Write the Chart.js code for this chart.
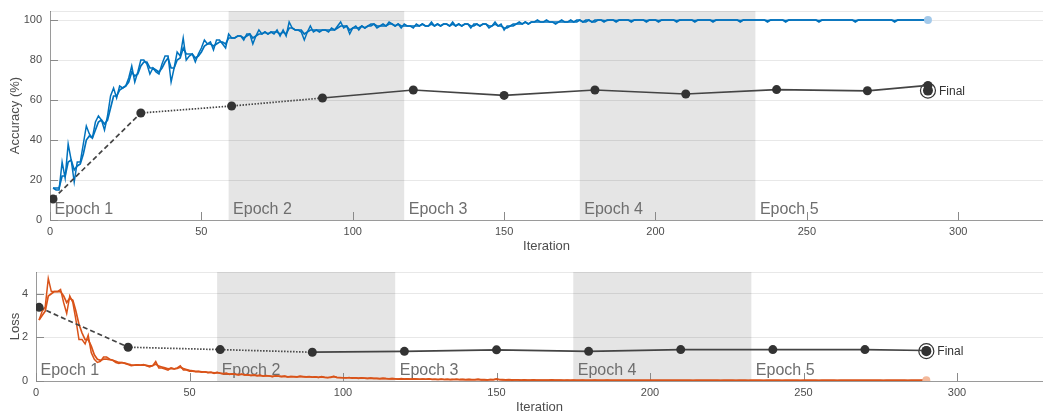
<!DOCTYPE html>
<html>
<head>
<meta charset="utf-8">
<script src="https://cdn.jsdelivr.net/npm/chart.js@4.4.1/dist/chart.umd.min.js"></script>
<style>
  html, body { margin: 0; padding: 0; background: #fff; width: 1043px; height: 413px; overflow: hidden; }
  canvas { display: block; }
</style>
</head>
<body>
<canvas id="acc" width="1043" height="262"></canvas>
<canvas id="loss" width="1043" height="160"></canvas>
<script>
// training accuracy per iteration (1..290)
const accRaw = [
  16,15,15,29,21,38,30,19,29,29,
  38,47,43,41,49,52,50,45,52,62,
  66,61,67,66,67,71,77,69,74,80,
  80,78,73,76,74,73,78,82,82,69,
  76,84,82,91,80,82,83,79,83,86,
  90,88,89,85,90,90,88,86,93,91,
  91,92,92,90,93,93,88,92,95,93,
  94,93,94,93,95,92,95,92,99,96,
  95,95,94,90,94,97,94,95,94,95,
  95,94,96,95,97,99,96,97,93,96,
  97,95,97,96,97,98,98,96,97,98,
  97,99,98,97,98,96,98,97,97,96,
  98,97,98,97,97,99,97,98,97,98,
  98,97,99,97,98,97,98,98,96,98,
  98,97,98,98,96,97,99,97,98,95,
  97,97,98,98,99,98,99,98,99,99,
  100,99,99,100,99,99,98,99,100,99,
  99,100,99,100,100,99,100,100,99,100,
  100,100,99,100,100,100,99,100,100,100,
  100,99,100,100,100,100,99,100,100,100,
  99,100,100,100,100,100,99,100,100,100,
  100,100,99,100,100,100,100,100,99,100,
  100,100,100,100,100,100,100,99,100,100,
  100,100,100,100,100,100,99,100,100,100,
  100,100,99,100,100,100,100,100,100,100,
  100,100,100,99,100,100,100,100,100,100,
  100,100,100,100,100,99,100,100,100,100,
  100,100,100,100,100,100,100,100,99,100,
  100,100,100,100,100,100,100,100,100,100
];
const accSmooth = [
  16,16,16,22,22,29,30,25,27,28,
  33,40,42,41,45,49,50,48,50,56,
  62,62,65,66,67,69,74,72,73,77,
  79,79,76,76,75,74,76,79,81,76,
  76,80,81,86,83,83,83,81,82,84,
  87,88,88,87,88,89,89,88,91,91,
  91,92,92,91,92,93,91,92,93,93,
  94,93,94,94,94,93,94,93,96,96,
  95,95,95,93,94,95,95,95,95,95,
  95,95,95,95,96,97,97,97,95,96,
  96,96,97,96,97,97,98,97,97,97,
  97,98,98,97,98,97,97,97,97,97,
  97,97,98,97,97,98,97,98,97,98,
  98,97,98,97,98,97,98,98,97,97,
  98,97,98,98,97,97,98,97,97,96,
  96,97,97,98,98,98,99,98,99,99,
  99,99,99,99,99,99,99,99,99,99,
  99,99,99,99,100,99,99,100,99,99,
  100,100,99.7,99.8,100,100,99.7,99.9,100,100,
  100,99.7,99.9,100,100,100,99.7,99.9,100,100,
  99.7,99.9,100,100,100,100,99.7,99.9,100,100,
  100,100,99.7,99.9,100,100,100,100,99.7,99.9,
  100,100,100,100,100,100,100,99.7,99.9,100,
  100,100,100,100,100,100,99.7,99.9,100,100,
  100,100,99.7,99.9,100,100,100,100,100,100,
  100,100,100,99.7,99.9,100,100,100,100,100,
  100,100,100,100,100,99.7,99.9,100,100,100,
  100,100,100,100,100,100,100,100,99.7,99.9,
  100,100,100,100,100,100,100,100,100,100
];
// training loss per iteration (1..290)
const lossRaw = [
  2.8,3.2,3.4,4.7,4.1,4.1,4.1,4.2,3.6,3.1,
  3.9,3.6,2.8,1.9,1.9,1.7,2.1,1.3,1.0,0.85,
  0.9,1.1,1.1,1.0,0.95,0.85,0.8,0.85,0.8,0.75,
  0.7,0.72,0.75,0.72,0.75,0.7,0.65,0.7,0.9,0.6,
  0.6,0.55,0.5,0.6,0.55,0.6,0.7,0.5,0.5,0.45,
  0.45,0.42,0.44,0.4,0.42,0.38,0.4,0.35,0.4,0.35,
  0.32,0.35,0.3,0.33,0.3,0.28,0.32,0.27,0.28,0.25,
  0.27,0.24,0.26,0.22,0.25,0.23,0.2,0.24,0.22,0.2,
  0.22,0.18,0.21,0.2,0.18,0.22,0.19,0.18,0.2,0.17,
  0.19,0.16,0.2,0.17,0.15,0.18,0.22,0.16,0.15,0.15,
  0.14,0.16,0.13,0.15,0.12,0.14,0.13,0.12,0.14,0.11,
  0.12,0.1,0.13,0.11,0.1,0.12,0.1,0.09,0.11,0.09,
  0.1,0.08,0.1,0.09,0.08,0.09,0.08,0.1,0.07,0.08,
  0.07,0.09,0.07,0.08,0.06,0.07,0.08,0.06,0.07,0.06,
  0.07,0.06,0.06,0.08,0.05,0.06,0.05,0.07,0.06,0.1,
  0.06,0.05,0.05,0.06,0.04,0.05,0.05,0.04,0.05,0.04,
  0.04,0.05,0.04,0.04,0.03,0.04,0.04,0.05,0.03,0.04,
  0.04,0.03,0.04,0.03,0.04,0.03,0.03,0.04,0.03,0.03,
  0.03,0.04,0.03,0.03,0.03,0.04,0.03,0.03,0.03,0.03,
  0.03,0.03,0.04,0.03,0.03,0.03,0.03,0.03,0.04,0.03,
  0.03,0.03,0.03,0.03,0.03,0.04,0.03,0.03,0.03,0.03,
  0.03,0.03,0.03,0.02,0.03,0.03,0.03,0.03,0.03,0.03,
  0.03,0.03,0.02,0.03,0.03,0.03,0.03,0.02,0.03,0.03,
  0.03,0.02,0.03,0.03,0.03,0.03,0.02,0.03,0.03,0.03,
  0.03,0.03,0.02,0.03,0.03,0.03,0.03,0.03,0.02,0.03,
  0.03,0.03,0.03,0.03,0.02,0.03,0.03,0.03,0.03,0.03,
  0.02,0.03,0.03,0.03,0.03,0.04,0.03,0.03,0.03,0.03,
  0.03,0.03,0.03,0.03,0.03,0.02,0.03,0.03,0.03,0.03,
  0.03,0.03,0.03,0.02,0.03,0.03,0.03,0.03,0.03,0.03
];
const lossSmooth = [
  2.8,3.0,3.2,3.9,4.0,4.1,4.1,4.1,3.9,3.6,
  3.8,3.7,3.2,2.6,2.2,1.9,1.9,1.6,1.2,1.0,
  0.95,1.0,1.0,0.98,0.95,0.9,0.85,0.84,0.82,0.78,
  0.74,0.73,0.74,0.73,0.74,0.72,0.69,0.7,0.78,0.68,
  0.64,0.6,0.56,0.58,0.56,0.58,0.63,0.57,0.53,0.49,
  0.47,0.44,0.44,0.42,0.42,0.4,0.4,0.37,0.38,0.36,
  0.34,0.35,0.32,0.33,0.31,0.29,0.31,0.28,0.28,0.26,
  0.27,0.25,0.26,0.23,0.24,0.23,0.21,0.23,0.22,0.21,
  0.22,0.19,0.2,0.2,0.19,0.21,0.2,0.19,0.2,0.18,
  0.19,0.17,0.19,0.17,0.16,0.17,0.2,0.17,0.16,0.15,
  0.15,0.15,0.14,0.15,0.13,0.14,0.13,0.12,0.13,0.12,
  0.12,0.11,0.12,0.11,0.1,0.11,0.1,0.09,0.1,0.09,
  0.1,0.09,0.1,0.09,0.08,0.09,0.08,0.09,0.08,0.08,
  0.07,0.08,0.07,0.08,0.07,0.07,0.08,0.07,0.07,0.06,
  0.07,0.06,0.06,0.07,0.06,0.06,0.05,0.06,0.06,0.08,
  0.07,0.06,0.05,0.06,0.05,0.05,0.05,0.04,0.05,0.04,
  0.04,0.05,0.04,0.04,0.04,0.04,0.04,0.05,0.04,0.04,
  0.04,0.035,0.038,0.034,0.037,0.034,0.033,0.036,0.034,0.033,
  0.033,0.036,0.034,0.033,0.033,0.036,0.034,0.033,0.033,0.032,
  0.032,0.032,0.035,0.033,0.032,0.032,0.031,0.031,0.034,0.032,
  0.031,0.031,0.031,0.03,0.03,0.034,0.032,0.031,0.03,0.03,
  0.03,0.03,0.03,0.026,0.028,0.029,0.029,0.03,0.03,0.03,
  0.03,0.03,0.026,0.028,0.029,0.029,0.03,0.026,0.028,0.029,
  0.029,0.026,0.028,0.029,0.029,0.03,0.026,0.028,0.029,0.029,
  0.03,0.03,0.026,0.028,0.029,0.029,0.03,0.03,0.026,0.028,
  0.029,0.029,0.03,0.03,0.026,0.028,0.029,0.029,0.03,0.03,
  0.026,0.028,0.029,0.029,0.03,0.034,0.032,0.031,0.03,0.03,
  0.03,0.03,0.03,0.03,0.03,0.026,0.028,0.029,0.029,0.03,
  0.03,0.03,0.03,0.026,0.028,0.029,0.029,0.03,0.03,0.03
];

// validation
const valIters = [1, 30, 60, 90, 120, 150, 180, 210, 240, 270, 290];
const valAcc = [10.5, 53.5, 57, 61, 65, 62.3, 65, 63, 65.2, 64.6, 67.3];
const valLoss = [3.38, 1.55, 1.44, 1.32, 1.36, 1.43, 1.36, 1.44, 1.44, 1.44, 1.40];
const finalIter = 290;
const finalAcc = 64.7;
const finalLoss = 1.37;

// epochs
const epochStart = [0, 59, 117, 175, 233];
const epochEnd = [59, 117, 175, 233, 291];
const epochNames = ['Epoch 1', 'Epoch 2', 'Epoch 3', 'Epoch 4', 'Epoch 5'];

const xTicks = [0, 50, 100, 150, 200, 250, 300];
const accTicks = [0, 20, 40, 60, 80, 100];
const lossTicks = [0, 2, 4];

Chart.defaults.font.family = '"Liberation Sans", Arial, sans-serif';
Chart.defaults.font.size = 11;
Chart.defaults.color = '#4d4d4d';

const toPts = arr => arr.map((v, i) => ({ x: i + 1, y: v }));
const valPts = arr => arr.map((v, i) => ({ x: valIters[i], y: v }));

// no extra padding from tick labels, the plot box is set by layout padding
function noPad(s) {
  s.paddingLeft = 0; s.paddingRight = 0; s.paddingTop = 0; s.paddingBottom = 0;
}

const epochPlugin = {
  id: 'epochs',
  beforeDraw(chart) {
    const { ctx, chartArea: a, scales: { x } } = chart;
    ctx.save();
    ctx.fillStyle = '#e5e5e5';
    epochStart.forEach((s, i) => {
      if (i % 2 === 1) {
        const x0 = x.getPixelForValue(s);
        const x1 = x.getPixelForValue(epochEnd[i]);
        ctx.fillRect(x0, a.top, x1 - x0, a.bottom - a.top);
      }
    });
    ctx.restore();
  },
  beforeDatasetsDraw(chart) {
    const { ctx, chartArea: a, scales: { x, y } } = chart;
    ctx.save();
    // top border
    ctx.strokeStyle = 'rgba(0,0,0,0.09)';
    ctx.lineWidth = 1;
    ctx.beginPath();
    ctx.moveTo(a.left, a.top + 0.5);
    ctx.lineTo(a.right, a.top + 0.5);
    ctx.stroke();
    // inside tick marks
    ctx.strokeStyle = '#8a8a8a';
    ctx.beginPath();
    x.ticks.forEach(t => {
      const px = Math.round(x.getPixelForValue(t.value)) + 0.5;
      ctx.moveTo(px, a.bottom);
      ctx.lineTo(px, a.bottom - 8);
    });
    y.ticks.forEach(t => {
      const py = Math.round(y.getPixelForValue(t.value)) + 0.5;
      ctx.moveTo(a.left, py);
      ctx.lineTo(a.left + 8, py);
    });
    ctx.stroke();
    // epoch labels
    ctx.fillStyle = '#6e6e6e';
    ctx.font = '16px "Liberation Sans", Arial, sans-serif';
    ctx.textBaseline = 'alphabetic';
    epochStart.forEach((s, i) => {
      ctx.fillText(epochNames[i], x.getPixelForValue(s) + 4.5, a.bottom - 6);
    });
    ctx.restore();
  },
  afterDatasetsDraw(chart) {
    const { ctx, scales: { x, y } } = chart;
    const fv = chart.options.plugins.epochs.finalValue;
    ctx.save();
    ctx.fillStyle = '#333';
    ctx.font = '12px "Liberation Sans", Arial, sans-serif';
    ctx.textBaseline = 'middle';
    ctx.fillText('Final', x.getPixelForValue(finalIter) + 11, y.getPixelForValue(fv) + 1);
    ctx.restore();
  }
};

function createChart(id, o) {
  return new Chart(document.getElementById(id), {
    type: 'line',
    data: {
      datasets: [
        { data: toPts(o.raw), borderColor: o.color, borderWidth: 1.5, pointRadius: 0, order: 6 },
        { data: toPts(o.smooth), borderColor: o.color, borderWidth: 1.7, pointRadius: 0, order: 5 },
        { data: [{ x: finalIter, y: o.finalVal }], showLine: false, pointRadius: 7.5,
          pointBackgroundColor: 'rgba(0,0,0,0)', pointBorderColor: '#333', pointBorderWidth: 1.2, order: 4 },
        { data: [{ x: finalIter, y: o.finalVal }], showLine: false, pointRadius: 5,
          pointBackgroundColor: '#333', pointBorderWidth: 0, order: 3 },
        { data: valPts(o.val), borderColor: '#444', borderWidth: 1.7, pointRadius: 4.5,
          pointBackgroundColor: '#333', pointBorderWidth: 0, order: 2,
          segment: {
            borderDash: ctx => ctx.p0DataIndex === 0 ? [5, 3] : (ctx.p0DataIndex < 3 ? [1.5, 1.5] : [])
          } },
        { data: [{ x: finalIter, y: o.raw[o.raw.length - 1] }], showLine: false, pointRadius: 4,
          pointBackgroundColor: o.light, pointBorderWidth: 0, order: 1 }
      ]
    },
    options: {
      responsive: false,
      animation: false,
      layout: { padding: o.padding, autoPadding: false },
      plugins: {
        legend: { display: false },
        tooltip: { enabled: false },
        epochs: { finalValue: o.finalVal }
      },
      scales: {
        x: {
          type: 'linear', min: 0, max: 328,
          afterBuildTicks: s => { s.ticks = xTicks.map(v => ({ value: v })); },
          afterFit: s => { s.height = 34; noPad(s); },
          grid: { display: false, drawTicks: false },
          border: { display: true, color: '#9a9a9a' },
          ticks: { padding: 5 },
          title: { display: true, text: 'Iteration', padding: 0, font: { size: 13 } }
        },
        y: {
          min: 0, max: o.yMax,
          afterBuildTicks: s => { s.ticks = o.yTicks.map(v => ({ value: v })); },
          afterFit: s => { s.width = o.yWidth; noPad(s); },
          grid: { color: 'rgba(0,0,0,0.09)', drawTicks: false },
          border: { color: '#9a9a9a' },
          ticks: { padding: 8 },
          title: { display: true, text: o.yTitle, padding: { top: 8, bottom: 0 }, font: { size: 13 } }
        }
      }
    },
    plugins: [epochPlugin]
  });
}

createChart('acc', {
  raw: accRaw, smooth: accSmooth, val: valAcc, finalVal: finalAcc,
  color: '#0072BD', light: '#a3c9ea',
  yMax: 104.5, yTicks: accTicks, yWidth: 50, yTitle: 'Accuracy (%)',
  padding: { top: 11, bottom: 8, left: 0, right: 0 }
});

createChart('loss', {
  raw: lossRaw, smooth: lossSmooth, val: valLoss, finalVal: finalLoss,
  color: '#D95319', light: '#f3b99b',
  yMax: 5, yTicks: lossTicks, yWidth: 36, yTitle: 'Loss',
  padding: { top: 10, bottom: 7, left: 0, right: 0 }
});
</script>
</body>
</html>
